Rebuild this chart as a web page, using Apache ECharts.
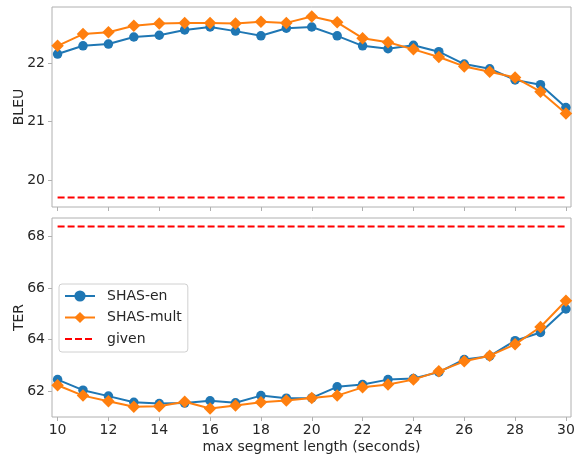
<!DOCTYPE html>
<html>
<head>
<meta charset="utf-8">
<script src="https://cdn.jsdelivr.net/npm/echarts@6/dist/echarts.min.js"></script>
<style>
  html, body { margin: 0; padding: 0; background: #fff; }
  #chart { width: 575px; height: 454px; }
</style>
</head>
<body>
<div id="chart"></div>
<script>
// max segment length (seconds)
const segLength = [10, 11, 12, 13, 14, 15, 16, 17, 18, 19, 20, 21, 22, 23, 24, 25, 26, 27, 28, 29, 30];

const bleuEn = [22.15, 22.29, 22.32, 22.44, 22.47, 22.56, 22.61, 22.54, 22.46, 22.59, 22.61,
  22.46, 22.29, 22.24, 22.30, 22.19, 21.98, 21.90, 21.71, 21.63, 21.24];
const bleuMult = [22.29, 22.49, 22.52, 22.63, 22.67, 22.68, 22.68, 22.67, 22.70, 22.68, 22.79,
  22.69, 22.42, 22.35, 22.23, 22.10, 21.94, 21.85, 21.75, 21.51, 21.14];
const bleuGiven = 19.71;

const terEn = [62.45, 62.04, 61.81, 61.57, 61.52, 61.54, 61.63, 61.55, 61.83, 61.73, 61.74,
  62.17, 62.26, 62.45, 62.49, 62.74, 63.23, 63.36, 63.96, 64.28, 65.19];
const terMult = [62.23, 61.83, 61.61, 61.40, 61.42, 61.59, 61.33, 61.45, 61.57, 61.64, 61.74,
  61.83, 62.15, 62.26, 62.45, 62.77, 63.16, 63.38, 63.82, 64.49, 65.51];
const terGiven = 68.39;

const xTicks = [10, 12, 14, 16, 18, 20, 22, 24, 26, 28, 30];
const bleuTicks = [20, 21, 22];
const terTicks = [62, 64, 66, 68];

const FONT = 'DejaVu Sans';
const SPINE = '#b0b0b0';
const TEXT = '#262626';

const pairs = (xs, ys) => xs.map((x, i) => [x, ys[i]]);
const flat = (v) => [[segLength[0], v], [segLength[segLength.length - 1], v]];

const xAxisBase = (gridIndex, showLabels) => ({
  type: 'value',
  gridIndex,
  min: 9.78,
  max: 30.2,
  axisLine: { show: false },
  splitLine: { show: false },
  axisTick: { show: true, length: 4, customValues: xTicks, lineStyle: { color: SPINE } },
  axisLabel: {
    show: showLabels, customValues: xTicks, margin: 6,
    fontFamily: FONT, fontSize: 14, color: TEXT,
  },
});

const yAxisBase = (gridIndex, min, max, ticks, name) => ({
  type: 'value',
  gridIndex,
  min,
  max,
  name,
  nameLocation: 'middle',
  nameRotate: 90,
  nameGap: 26,
  nameMoveOverlap: false,
  nameTextStyle: { fontFamily: FONT, fontSize: 14, color: TEXT },
  axisLine: { show: false },
  splitLine: { show: false },
  axisTick: { show: true, length: 4, customValues: ticks, lineStyle: { color: SPINE } },
  axisLabel: { customValues: ticks, margin: 7, fontFamily: FONT, fontSize: 14, color: TEXT },
});

const enSeries = (idx, data) => ({
  name: 'SHAS-en', type: 'line', xAxisIndex: idx, yAxisIndex: idx,
  data: pairs(segLength, data),
  symbol: 'circle', symbolSize: 9.5,
  lineStyle: { color: '#1f77b4', width: 2 },
  itemStyle: { color: '#1f77b4' },
  z: 3,
});

const multSeries = (idx, data) => ({
  name: 'SHAS-mult', type: 'line', xAxisIndex: idx, yAxisIndex: idx,
  data: pairs(segLength, data),
  symbol: 'diamond', symbolSize: 12.5,
  lineStyle: { color: '#ff7f0e', width: 2 },
  itemStyle: { color: '#ff7f0e' },
  z: 4,
});

const givenSeries = (idx, v) => ({
  name: 'given', type: 'line', xAxisIndex: idx, yAxisIndex: idx,
  data: flat(v),
  symbol: 'none',
  lineStyle: { color: '#ff0000', width: 2, type: [7, 3] },
  itemStyle: { color: '#ff0000' },
  z: 2,
});

const gridBase = {
  left: 52, width: 519, show: true, borderColor: SPINE, borderWidth: 1,
  containLabel: false, outerBoundsMode: 'none',
};

const chart = echarts.init(document.getElementById('chart'), null, { renderer: 'canvas' });
chart.setOption({
  animation: false,
  backgroundColor: '#fff',
  grid: [
    Object.assign({ top: 7, height: 200 }, gridBase),
    Object.assign({ top: 218, height: 199 }, gridBase),
  ],
  xAxis: [
    xAxisBase(0, false),
    Object.assign(xAxisBase(1, true), {
      name: 'max segment length (seconds)',
      nameLocation: 'middle',
      nameGap: 23,
      nameMoveOverlap: false,
      nameTextStyle: { fontFamily: FONT, fontSize: 14, color: TEXT },
    }),
  ],
  yAxis: [
    yAxisBase(0, 19.55, 22.95, bleuTicks, 'BLEU'),
    yAxisBase(1, 61.0, 68.72, terTicks, 'TER'),
  ],
  legend: {
    left: 59,
    top: 284,
    orient: 'vertical',
    data: [
      'SHAS-en',
      'SHAS-mult',
      { name: 'given', itemStyle: { opacity: 0 } },
    ],
    backgroundColor: '#fff',
    borderColor: '#d0d0d0',
    borderWidth: 1,
    borderRadius: 3,
    padding: [5, 6, 6, 5],
    itemWidth: 30,
    itemHeight: 14,
    itemGap: 7.5,
    textStyle: { fontFamily: FONT, fontSize: 14, color: TEXT, padding: [0, 0, 0, 7] },
  },
  series: [
    givenSeries(0, bleuGiven),
    enSeries(0, bleuEn),
    multSeries(0, bleuMult),
    givenSeries(1, terGiven),
    enSeries(1, terEn),
    multSeries(1, terMult),
  ],
});
</script>
</body>
</html>
